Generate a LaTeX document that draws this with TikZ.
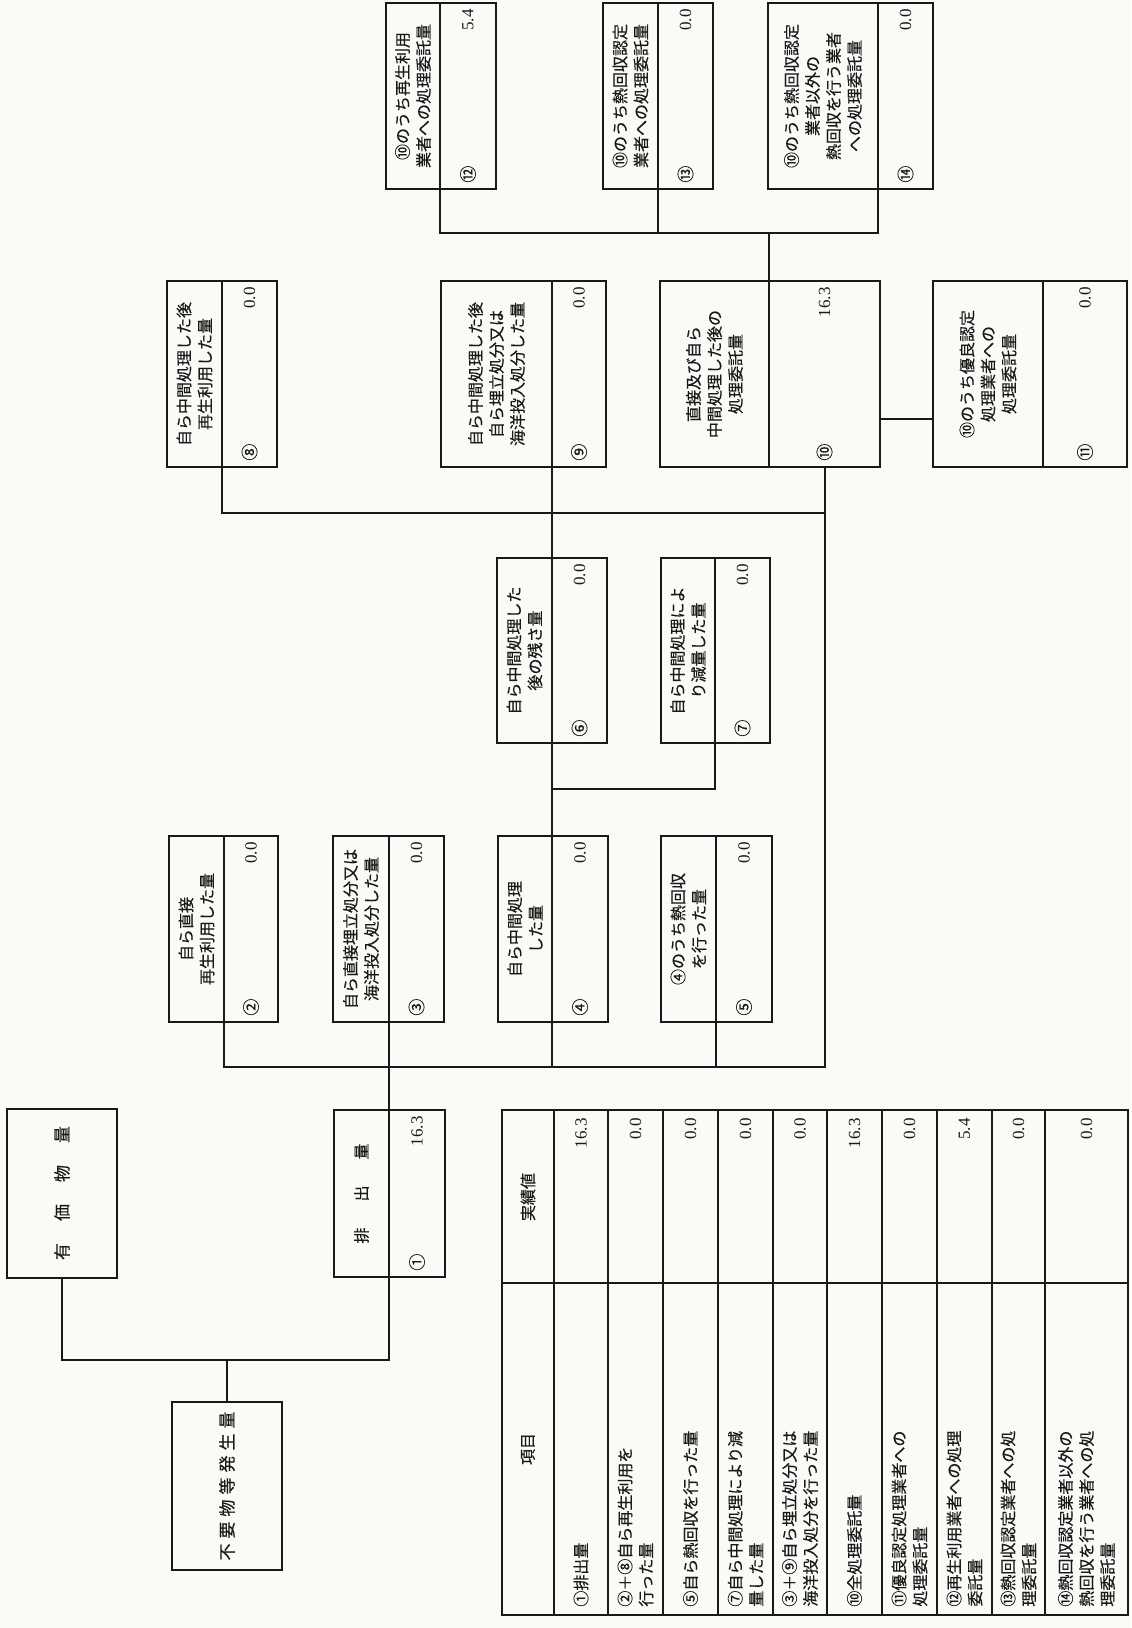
\documentclass[tikz,border=0pt]{standalone}
\usepackage{fontspec}
\setmainfont{Noto Sans CJK JP}[FakeBold=0.35]
\newfontfamily\numfont{Liberation Serif}
\usetikzlibrary{calc}
\definecolor{paper}{RGB}{250,250,246}
\definecolor{ink}{RGB}{25,25,25}
\tikzset{
  boxpart/.style={draw=ink, line width=1pt, rectangle, inner sep=0pt, outer sep=0pt},
  lbl/.style={rotate=90, align=center, inner sep=0pt, text=ink, font=\fontsize{8}{10.5}\selectfont},
  biglbl/.style={rotate=90, align=center, inner sep=0pt, text=ink, font=\fontsize{8.5}{10.5}\selectfont},
  val/.style={rotate=90, inner sep=0pt, text=ink, font=\numfont\fontsize{8.5}{10}\selectfont},
  circ/.style={rotate=90, inner sep=0pt, text=ink, font=\fontsize{8.5}{10}\selectfont},
  conn/.style={draw=ink, line width=1pt},
  tline/.style={draw=ink, line width=0.9pt},
  titem/.style={rotate=90, anchor=west, align=left, inner sep=0pt, text=ink, font=\fontsize{8}{10.5}\selectfont},
  tval/.style={rotate=90, anchor=east, inner sep=0pt, text=ink, font=\numfont\fontsize{8.5}{10}\selectfont}
}
% #1 name, #2 x1, #3 y1, #4 divider x, #5 x2, #6 y2, #7 text, #8 value, #9 circled number
\newcommand\databox[9]{%
  \node[boxpart, minimum width={(#4-#2)*0.5pt}, minimum height={(#6-#3)*0.5pt}] (#1t) at ({(#2+#4)/2},{(#3+#6)/2}) {};
  \node[boxpart, minimum width={(#5-#4)*0.5pt}, minimum height={(#6-#3)*0.5pt}] (#1n) at ({(#4+#5)/2},{(#3+#6)/2}) {};
  \node[lbl] (#1l) at (#1t.center) {#7};
  \node[val, anchor=east] (#1v) at ({(#4+#5)/2},{#3+6}) {#8};
  \node[circ, anchor=west] (#1c) at ({(#4+#5)/2},{#6-6}) {#9};
}
\begin{document}
\begin{tikzpicture}[x=0.5pt,y=-0.5pt]
\fill[paper] (0,0) rectangle (1131,1628);
\useasboundingbox (0,0) rectangle (1131,1628);

% --- top-left boxes
\node[boxpart, minimum width=55pt, minimum height=84.5pt] (ygb) at (62,1193) {};
\node[biglbl] (ygl) at (ygb.center) {有\hspace{11pt}価\hspace{11pt}物\hspace{11pt}量};
\node[boxpart, minimum width=55pt, minimum height=84pt] (fub) at (227,1486) {};
\node[biglbl] (ful) at (fub.center) {不\hspace{2.5pt}要\hspace{2.5pt}物\hspace{2.5pt}等\hspace{2.5pt}発\hspace{2.5pt}生\hspace{2.5pt}量};

\databox{b1}{334}{1110}{389}{445}{1277}{排\hspace{13pt}出\hspace{13pt}量}{16.3}{①}

\databox{b2}{169}{836}{224}{278}{1022}{自ら直接\\再生利用した量}{0.0}{②}
\databox{b3}{333}{836}{389}{444}{1022}{自ら直接埋立処分又は\\海洋投入処分した量}{0.0}{③}
\databox{b4}{498}{836}{552}{608}{1022}{自ら中間処理\\した量}{0.0}{④}
\databox{b5}{661}{836}{716}{772}{1022}{④のうち熱回収\\を行った量}{0.0}{⑤}
\databox{b6}{497}{558}{552}{607}{743}{自ら中間処理した\\後の残さ量}{0.0}{⑥}
\databox{b7}{661}{558}{715}{770}{743}{自ら中間処理によ\\り減量した量}{0.0}{⑦}
\databox{b8}{167}{281}{222}{277}{467}{自ら中間処理した後\\再生利用した量}{0.0}{⑧}
\databox{b9}{441}{281}{552}{606}{467}{自ら中間処理した後\\自ら埋立処分又は\\海洋投入処分した量}{0.0}{⑨}
\databox{b10}{660}{281}{769}{880}{467}{直接及び自ら\\中間処理した後の\\処理委託量}{16.3}{⑩}
\databox{b11}{933}{281}{1043}{1127}{467}{⑩のうち優良認定\\処理業者への\\処理委託量}{0.0}{⑪}
\databox{b12}{386}{3}{440}{496}{189}{⑩のうち再生利用\\業者への処理委託量}{5.4}{⑫}
\databox{b13}{603}{3}{658}{713}{189}{⑩のうち熱回収認定\\業者への処理委託量}{0.0}{⑬}
\databox{b14}{768}{3}{878}{933}{189}{⑩のうち熱回収認定\\業者以外の\\熱回収を行う業者\\への処理委託量}{0.0}{⑭}

% --- bus levels
\coordinate (genbus) at (0,1360);
\coordinate (lowbus) at (0,1067);
\coordinate (redbus) at (0,789);
\coordinate (upbus) at (0,513);
\coordinate (sidebus) at (0,419);
\coordinate (topbus) at (0,233);

% --- connectors
\draw[conn] (ygb.south) -- (ygb.south |- genbus) -- (b1t.south east |- genbus) -- (b1t.south east);
\draw[conn] (fub.north) -- (fub.north |- genbus);

\draw[conn] (b2t.south east) -- (b2t.south east |- lowbus) -- (b10n.south |- lowbus) -- (b10n.south);
\draw[conn] (b3t.south east) -- (b1t.north east);
\draw[conn] (b4t.south east) -- (b4t.south east |- lowbus);
\draw[conn] (b5t.south east) -- (b5t.south east |- lowbus);

\draw[conn] (b4t.north east) -- (b6t.south east);
\draw[conn] (b7t.south east) -- (b7t.south east |- redbus) -- (b6t.south east |- redbus);
\draw[conn] (b6t.north east) -- (b9t.south east);
\draw[conn] (b8t.south east) -- (b8t.south east |- upbus) -- (b10n.south |- upbus);

\draw[conn] (b10n.east |- sidebus) -- (b11t.west |- sidebus);
\draw[conn] (b10t.north east) -- (b10t.north east |- topbus);
\draw[conn] (b12t.south east) -- (b12t.south east |- topbus) -- (b14t.south east |- topbus) -- (b14t.south east);
\draw[conn] (b13t.south east) -- (b13t.south east |- topbus);

% --- table
\draw[tline] (502,1110) rectangle (1128,1615);
\draw[tline] (502,1283) -- (1128,1283);
\foreach \x in {554,608,663,718,773,827,882,937,992,1045} \draw[tline] (\x,1110) -- (\x,1615);

\node[lbl] (th1) at (528,1197) {実績値};
\node[lbl] (th2) at (528,1449) {項目};

\node[titem] (r1i) at (581,1607) {①排出量};
\node[tval] (r1v) at (581,1118) {16.3};
\node[titem] (r2i) at (635.5,1607) {②＋⑧自ら再生利用を\\行った量};
\node[tval] (r2v) at (635.5,1118) {0.0};
\node[titem] (r3i) at (690.5,1607) {⑤自ら熱回収を行った量};
\node[tval] (r3v) at (690.5,1118) {0.0};
\node[titem] (r4i) at (745.5,1607) {⑦自ら中間処理により減\\量した量};
\node[tval] (r4v) at (745.5,1118) {0.0};
\node[titem] (r5i) at (800,1607) {③＋⑨自ら埋立処分又は\\海洋投入処分を行った量};
\node[tval] (r5v) at (800,1118) {0.0};
\node[titem] (r6i) at (854.5,1607) {⑩全処理委託量};
\node[tval] (r6v) at (854.5,1118) {16.3};
\node[titem] (r7i) at (909.5,1607) {⑪優良認定処理業者への\\処理委託量};
\node[tval] (r7v) at (909.5,1118) {0.0};
\node[titem] (r8i) at (964.5,1607) {⑫再生利用業者への処理\\委託量};
\node[tval] (r8v) at (964.5,1118) {5.4};
\node[titem] (r9i) at (1018.5,1607) {⑬熱回収認定業者への処\\理委託量};
\node[tval] (r9v) at (1018.5,1118) {0.0};
\node[titem] (r10i) at (1086.5,1607) {⑭熱回収認定業者以外の\\熱回収を行う業者への処\\理委託量};
\node[tval] (r10v) at (1086.5,1118) {0.0};
\end{tikzpicture}
\end{document}
